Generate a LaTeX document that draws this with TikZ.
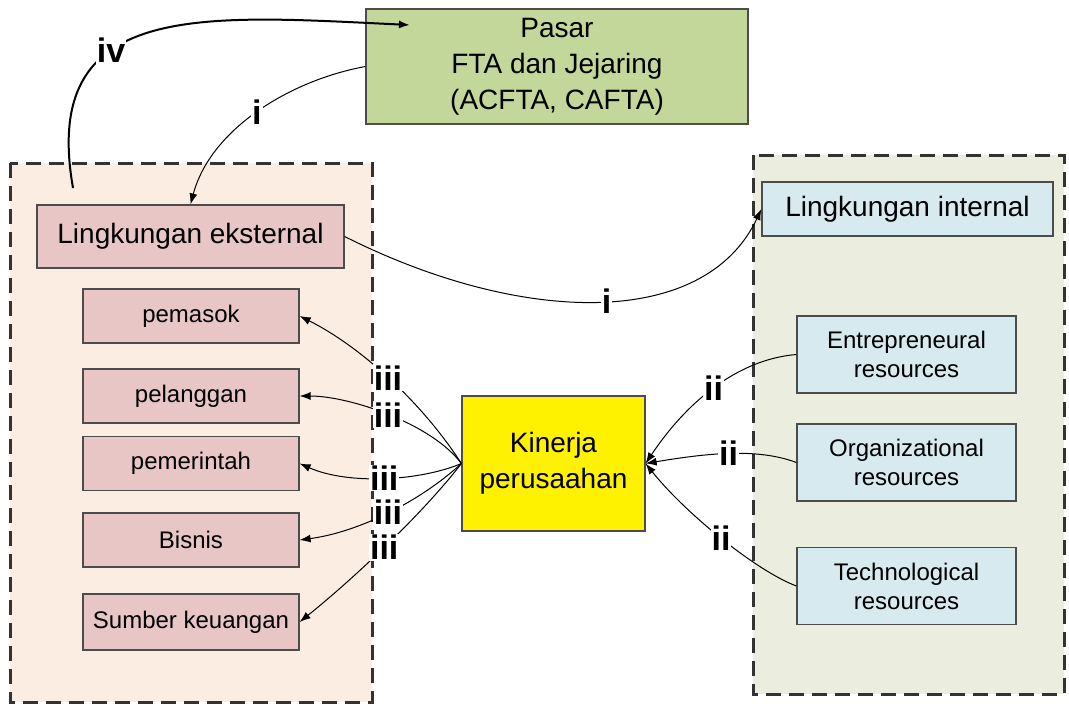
\documentclass[tikz,border=0pt]{standalone}
\usepackage{fontspec}
\setmainfont{Liberation Sans}
\usetikzlibrary{arrows.meta}

\definecolor{hijau}{RGB}{196,215,155}
\definecolor{krem}{RGB}{252,237,226}
\definecolor{merahmuda}{RGB}{232,198,198}
\definecolor{zaitun}{RGB}{235,238,222}
\definecolor{birumuda}{RGB}{214,234,240}

\tikzset{
  kotak/.style={draw=black!70, line width=1.2pt, align=center, inner sep=0pt},
  besar/.style={font=\fontsize{28}{36}\selectfont},
  kecil/.style={font=\fontsize{24}{29}\selectfont},
  wadah/.style={draw=black!80, line width=3pt, dash pattern=on 15pt off 8pt},
  lbl/.style={font=\fontsize{34}{34}\selectfont\bfseries, fill=white, inner sep=1pt},
  panah/.style={-{Latex[length=11pt,width=8pt]}, line width=1pt}
}

\begin{document}
\begin{tikzpicture}[x=1pt, y=-1pt]
        \useasboundingbox (0,0) rectangle (1069,704);

        % wadah
        \draw[wadah, fill=krem] (10,163) rectangle (372,702);
        \draw[wadah, fill=zaitun] (753,155) rectangle (1064,694);

        % pasar
        \node[kotak, besar, fill=hijau, minimum width=382, minimum height=115] (pasar) at (557,66.5) {Pasar\\FTA dan Jejaring\\(ACFTA, CAFTA)};

        % eksternal
        \node[kotak, besar, fill=merahmuda, minimum width=307, minimum height=63] (lekst) at (190.5,236.5) {Lingkungan eksternal};
        \node[kotak, kecil, fill=merahmuda, minimum width=216, minimum height=54] (pemasok) at (191,316) {pemasok};
        \node[kotak, kecil, fill=merahmuda, minimum width=216, minimum height=54] (pelanggan) at (191,396) {pelanggan};
        \node[kotak, kecil, fill=merahmuda, minimum width=216, minimum height=54] (pemerintah) at (191,463.5) {pemerintah};
        \node[kotak, kecil, fill=merahmuda, minimum width=216, minimum height=54] (bisnis) at (191,540) {Bisnis};
        \node[kotak, kecil, fill=merahmuda, minimum width=216, minimum height=56] (sumber) at (191,622) {Sumber keuangan};

        % kinerja
        \node[kotak, besar, fill=yellow, minimum width=183, minimum height=135] (kinerja) at (553.5,463.5) {Kinerja\\perusaahan};

        % internal
        \node[kotak, besar, fill=birumuda, minimum width=291, minimum height=54] (lint) at (907.5,209) {Lingkungan internal};
        \node[kotak, kecil, fill=birumuda, minimum width=219, minimum height=77] (entre) at (906.5,354.5) {Entrepreneural\\resources};
        \node[kotak, kecil, fill=birumuda, minimum width=219, minimum height=77] (organ) at (906.5,462.5) {Organizational\\resources};
        \node[kotak, kecil, fill=birumuda, minimum width=219, minimum height=77] (tekno) at (906.5,586) {Technological\\resources};

        % panah i dan iv
        \coordinate (ivawal) at (73,188);
        \coordinate (ivakhir) at (410,25);
        \draw[panah, line width=2pt] (ivawal) .. controls (40,0) and (200,15) .. (ivakhir) node[lbl, pos=0.38] {iv};
        \draw[panah] (pasar.west) .. controls +(-76,14) and +(20,-75) .. (lekst.north) node[lbl, pos=0.5] {i};
        \draw[panah] (lekst.east) .. controls +(176,88.5) and +(-57,121) .. (lint.west) node[lbl, pos=0.52] {i};

        % panah iii
        \draw[panah] (kinerja.west) .. controls +(-40,-62) and +(60,30) .. (pemasok.east) node[lbl, pos=0.5] {iii};
        \draw[panah] (kinerja.west) .. controls +(-30,-40) and +(50,0) .. (pelanggan.east) node[lbl, pos=0.5] {iii};
        \draw[panah] (kinerja.west) .. controls +(-40,17) and +(50,22) .. (pemerintah.east) node[lbl, pos=0.5] {iii};
        \draw[panah] (kinerja.west) .. controls +(-40,37) and +(60,-8) .. (bisnis.east) node[lbl, pos=0.5] {iii};
        \draw[panah] (kinerja.west) .. controls +(-40,52) and +(50,-40) .. (sumber.east) node[lbl, pos=0.5] {iii};

        % panah ii
        \draw[panah] (entre.west) .. controls +(-60,5) and +(40,-60) .. (kinerja.east) node[lbl, pos=0.5] {ii};
        \draw[panah] (organ.west) .. controls +(-40,-15) and +(60,-10) .. (kinerja.east) node[lbl, pos=0.5] {ii};
        \draw[panah] (tekno.west) .. controls +(-40,-15) and +(40,50) .. (kinerja.east) node[lbl, pos=0.5] {ii};

    \end{tikzpicture}
\end{document}
